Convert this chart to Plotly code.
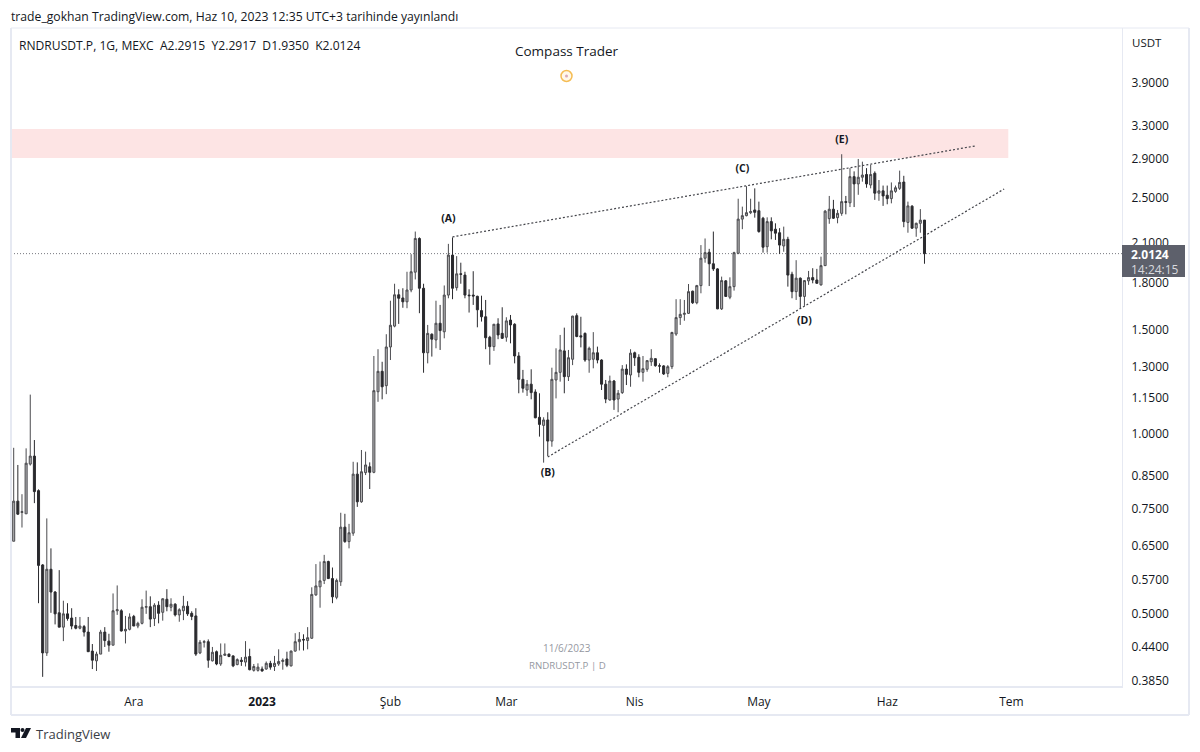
import numpy as np
import pandas as pd
import plotly.graph_objects as go

# daily candles, RNDRUSDT.P, first bar 2 Nov 2022
opens = [
    .661, .772, .739, .735, .891, .919, .804, .603, .429, .593,
    .543, .501, .474, .499, .491, .477, .472, .475, .465, .432,
    .416, .427, .465, .449, .442, .505, .505, .467, .470, .494,
    .476, .481, .512, .513, .490, .516, .502, .528, .512, .518,
    .497, .505, .514, .500, .495, .429, .447, .448, .416, .431,
    .411, .425, .427, .424, .410, .417, .414, .423, .401, .401,
    .403, .403, .412, .407, .411, .415, .419, .408, .432, .448,
    .452, .450, .454, .537, .554, .568, .611, .572, .532, .565,
    .698, .660, .682, .857, .770, .862, .882, .863, 1.179, 1.276,
    1.207, 1.402, 1.520, 1.716, 1.695, 1.670, 1.748, 1.873, 2.134, 1.760,
    1.371, 1.473, 1.441, 1.537, 1.487, 1.714, 2.001, 1.764, 1.861, 1.852,
    1.714, 1.714, 1.706, 1.614, 1.576, 1.456, 1.404, 1.533, 1.478, 1.456,
    1.556, 1.531, 1.354, 1.237, 1.187, 1.214, 1.178, 1.068, 1.035, 1.057,
    .974, 1.234, 1.271, 1.381, 1.250, 1.337, 1.583, 1.464, 1.478, 1.333,
    1.337, 1.371, 1.333, 1.214, 1.142, 1.229, 1.146, 1.175, 1.287, 1.258,
    1.371, 1.347, 1.271, 1.286, 1.324, 1.340, 1.304, 1.303, 1.266, 1.299,
    1.474, 1.571, 1.591, 1.597, 1.740, 1.664, 1.778, 1.977, 2.023, 1.935,
    1.897, 1.625, 1.811, 1.700, 1.771, 2.015, 2.300, 2.331, 2.358, 2.383,
    2.376, 2.308, 2.067, 2.278, 2.212, 2.182, 2.073, 2.127, 1.858, 1.737,
    1.830, 1.705, 1.811, 1.834, 1.817, 1.783, 1.921, 2.304, 2.390, 2.313,
    2.352, 2.461, 2.450, 2.711, 2.636, 2.705, 2.734, 2.625, 2.747, 2.543,
    2.566, 2.523, 2.490, 2.561, 2.591, 2.655, 2.271, 2.418, 2.221, 2.263,
    2.2915,
]
highs = [
    .949, .888, .793, .947, 1.166, .978, .808, .605, .722, .643,
    .545, .591, .525, .520, .510, .493, .493, .478, .493, .444,
    .431, .469, .474, .462, .540, .557, .508, .495, .500, .497,
    .484, .528, .546, .534, .520, .524, .530, .549, .530, .520,
    .510, .535, .524, .504, .510, .451, .451, .452, .439, .433,
    .445, .445, .428, .425, .420, .422, .449, .436, .411, .412,
    .407, .415, .416, .424, .435, .420, .431, .433, .463, .465,
    .461, .474, .553, .605, .611, .627, .613, .597, .572, .738,
    .735, .707, .899, .897, .941, .935, .897, 1.354, 1.390, 1.324,
    1.473, 1.677, 1.791, 1.753, 1.760, 1.876, 2.008, 2.192, 2.143, 1.791,
    1.527, 1.478, 1.677, 1.650, 1.779, 2.090, 2.143, 1.993, 1.943, 1.876,
    1.753, 1.880, 1.710, 1.710, 1.682, 1.464, 1.533, 1.567, 1.635, 1.573,
    1.587, 1.537, 1.374, 1.283, 1.234, 1.286, 1.190, 1.172, 1.068, 1.089,
    1.294, 1.395, 1.469, 1.511, 1.386, 1.582, 1.597, 1.576, 1.483, 1.404,
    1.485, 1.404, 1.337, 1.234, 1.255, 1.234, 1.187, 1.307, 1.311, 1.390,
    1.377, 1.363, 1.354, 1.333, 1.390, 1.342, 1.316, 1.307, 1.307, 1.487,
    1.687, 1.687, 1.682, 1.789, 1.744, 1.783, 2.080, 2.134, 2.050, 2.192,
    1.902, 1.841, 1.817, 1.836, 2.027, 2.489, 2.414, 2.613, 2.489, 2.591,
    2.461, 2.320, 2.316, 2.316, 2.263, 2.221, 2.234, 2.148, 1.876, 1.962,
    1.835, 1.817, 1.882, 1.902, 1.897, 1.989, 2.383, 2.516, 2.478, 2.383,
    2.957, 2.516, 2.802, 2.767, 2.903, 2.873, 2.802, 2.838, 2.767, 2.676,
    2.619, 2.619, 2.651, 2.619, 2.775, 2.720, 2.461, 2.428, 2.269, 2.391,
    2.2917,
]
lows = [
    .661, .732, .697, .735, .886, .766, .520, .391, .424, .501,
    .479, .474, .449, .486, .470, .470, .470, .457, .431, .403,
    .400, .427, .439, .431, .442, .497, .466, .445, .468, .476,
    .472, .479, .499, .474, .476, .481, .486, .504, .504, .494,
    .484, .487, .495, .487, .424, .427, .438, .405, .415, .409,
    .408, .424, .422, .406, .409, .408, .407, .401, .399, .399,
    .399, .402, .402, .400, .408, .402, .406, .407, .431, .433,
    .433, .435, .453, .535, .511, .560, .571, .520, .528, .556,
    .657, .643, .675, .755, .767, .854, .809, .860, 1.134, 1.145,
    1.168, 1.333, 1.513, 1.533, 1.632, 1.629, 1.733, 1.821, 1.598, 1.269,
    1.316, 1.351, 1.395, 1.386, 1.450, 1.693, 1.687, 1.744, 1.791, 1.693,
    1.602, 1.650, 1.513, 1.547, 1.390, 1.309, 1.381, 1.445, 1.446, 1.431,
    1.422, 1.316, 1.172, 1.175, 1.160, 1.145, 1.064, .991, .896, .919,
    .953, 1.149, 1.226, 1.172, 1.229, 1.307, 1.456, 1.400, 1.324, 1.269,
    1.291, 1.316, 1.187, 1.128, 1.139, 1.099, 1.089, 1.169, 1.210, 1.202,
    1.303, 1.247, 1.226, 1.274, 1.303, 1.299, 1.269, 1.258, 1.247, 1.287,
    1.464, 1.527, 1.552, 1.593, 1.656, 1.654, 1.726, 1.943, 1.775, 1.882,
    1.623, 1.618, 1.702, 1.687, 1.744, 2.008, 2.212, 2.325, 2.345, 2.313,
    2.182, 2.020, 2.020, 2.127, 2.122, 2.010, 2.027, 1.771, 1.693, 1.682,
    1.625, 1.644, 1.783, 1.794, 1.791, 1.778, 1.918, 2.259, 2.301, 2.263,
    2.330, 2.343, 2.410, 2.410, 2.527, 2.659, 2.597, 2.591, 2.478, 2.469,
    2.421, 2.436, 2.445, 2.547, 2.575, 2.229, 2.182, 2.215, 2.148, 2.182,
    1.9350,
]
closes = [
    .772, .734, .741, .894, .919, .801, .602, .429, .593, .543,
    .499, .474, .499, .490, .476, .472, .476, .465, .431, .417,
    .427, .465, .450, .442, .505, .507, .467, .470, .493, .476,
    .481, .512, .513, .489, .516, .500, .529, .513, .518, .497,
    .507, .514, .499, .494, .427, .447, .448, .417, .430, .411,
    .425, .427, .423, .408, .418, .415, .422, .402, .407, .406,
    .400, .412, .406, .412, .415, .417, .409, .432, .448, .452,
    .451, .455, .538, .556, .567, .611, .572, .533, .568, .698,
    .660, .683, .857, .770, .865, .888, .863, 1.184, 1.276, 1.202,
    1.402, 1.525, 1.716, 1.693, 1.670, 1.748, 1.876, 2.134, 1.760, 1.371,
    1.478, 1.445, 1.537, 1.494, 1.714, 2.001, 1.760, 1.861, 1.858, 1.714,
    1.710, 1.708, 1.619, 1.576, 1.453, 1.404, 1.531, 1.469, 1.450, 1.551,
    1.527, 1.354, 1.237, 1.195, 1.214, 1.175, 1.066, 1.039, 1.057, .974,
    1.237, 1.271, 1.386, 1.250, 1.345, 1.580, 1.460, 1.458, 1.333, 1.395,
    1.371, 1.333, 1.214, 1.146, 1.229, 1.142, 1.172, 1.287, 1.261, 1.369,
    1.345, 1.271, 1.289, 1.330, 1.342, 1.304, 1.302, 1.263, 1.299, 1.483,
    1.571, 1.591, 1.597, 1.737, 1.664, 1.778, 1.977, 2.020, 1.935, 1.897,
    1.625, 1.813, 1.705, 1.771, 2.020, 2.300, 2.331, 2.358, 2.368, 2.361,
    2.192, 2.063, 2.278, 2.198, 2.178, 2.080, 2.127, 1.852, 1.737, 1.830,
    1.705, 1.813, 1.834, 1.817, 1.794, 1.921, 2.372, 2.390, 2.308, 2.352,
    2.461, 2.455, 2.711, 2.636, 2.705, 2.728, 2.636, 2.734, 2.543, 2.566,
    2.516, 2.490, 2.566, 2.597, 2.651, 2.278, 2.421, 2.221, 2.263, 2.291,
    2.0124,
]

# trendlines and zone
upper_dates = ["2023-02-16", "2023-06-22 06:00"]
upper_prices = [2.147, 3.053]
lower_dates = ["2023-03-11", "2023-06-29 06:00"]
lower_prices = [0.916, 2.585]
zone_dates = ["2022-11-01", "2023-06-30 06:00"]
zone_prices = [2.914, 3.261]
last_price = 2.0124

wave_labels = ["<b>(A)</b>", "<b>(B)</b>", "<b>(C)</b>", "<b>(D)</b>", "<b>(E)</b>"]
wave_dates = ["2023-02-15", "2023-03-11", "2023-04-27", "2023-05-12", "2023-05-21"]
wave_prices = [2.30, 0.858, 2.785, 1.547, 3.115]

y_ticks = [3.9, 3.3, 2.9, 2.5, 2.1, 1.8, 1.5, 1.3, 1.15, 1.0, 0.85, 0.75, 0.65, 0.57, 0.5, 0.44, 0.385]
x_ticks = ["2022-12-01", "2023-01-01", "2023-02-01", "2023-03-01", "2023-04-01", "2023-05-01", "2023-06-01", "2023-07-01"]
x_labels = ["Ara", "<b>2023</b>", "Şub", "Mar", "Nis", "May", "Haz", "Tem"]

FONT = "Open Sans"
INK = "#131722"
BORDER = "#e6e9f2"
L, R, T, B = 11, 1122, 28, 686


def px(x):
    return (x - L) / (R - L)


def py(y):
    return (B - y) / (B - T)


dates = pd.date_range("2022-11-02", periods=len(opens), freq="D")

fig = go.Figure()
fig.add_trace(go.Candlestick(
    x=dates, open=opens, high=highs, low=lows, close=closes,
    increasing=dict(line=dict(color="#4a4a4e", width=1), fillcolor="#b4b4b6"),
    decreasing=dict(line=dict(color="#2a2a2e", width=1), fillcolor="#2a2a2e"),
    whiskerwidth=0,
    showlegend=False,
))
for xs, ys in [(upper_dates, upper_prices), (lower_dates, lower_prices)]:
    fig.add_trace(go.Scatter(
        x=xs, y=ys, mode="lines", showlegend=False,
        line=dict(color="#44454b", width=1.2, dash="2px,2px"),
    ))
fig.add_trace(go.Scatter(
    x=wave_dates, y=wave_prices, mode="text", text=wave_labels, showlegend=False,
    textfont=dict(family=FONT, size=10.5, color=INK),
))

shapes = [
    dict(type="rect", xref="x", yref="y", x0=zone_dates[0], x1=zone_dates[1],
         y0=zone_prices[0], y1=zone_prices[1],
         fillcolor="#fde4e4", line_width=0, layer="below"),
    dict(type="line", xref="paper", yref="y", x0=0, x1=1, y0=last_price, y1=last_price,
         line=dict(color="#77787f", width=1, dash="1px,2px"), layer="below"),
    # panel frame
    dict(type="line", xref="paper", yref="paper", x0=px(1189), x1=px(1189), y0=py(28), y1=py(715),
         line=dict(color=BORDER, width=2)),
    dict(type="line", xref="paper", yref="paper", x0=px(11), x1=px(1189), y0=py(715), y1=py(715),
         line=dict(color=BORDER, width=2)),
    dict(type="line", xref="paper", yref="paper", x0=px(11), x1=px(11), y0=py(28), y1=py(715),
         line=dict(color=BORDER, width=2)),
    dict(type="line", xref="paper", yref="paper", x0=px(11), x1=px(1189), y0=py(28), y1=py(28),
         line=dict(color=BORDER, width=1)),
    # last price tag
    dict(type="rect", xref="paper", yref="paper", x0=px(1122), x1=px(1185), y0=py(245), y1=py(277),
         fillcolor="#5d606b", line_width=0, layer="above"),
    # compass icon
    dict(type="circle", xref="paper", yref="paper", x0=px(561), x1=px(572), y0=py(70.5), y1=py(81.5),
         fillcolor="#fff8ea", line=dict(color="#f5bd55", width=1.5)),
    dict(type="circle", xref="paper", yref="paper", x0=px(565), x1=px(568), y0=py(74.5), y1=py(77.5),
         fillcolor="#d9a9b8", line_width=0),
    # TradingView logo
    dict(type="path", xref="paper", yref="paper", fillcolor="#131722", line_width=0,
         path=f"M {px(11)} {py(728)} L {px(20)} {py(728)} L {px(20)} {py(738)} L {px(15.5)} {py(738)} "
              f"L {px(15.5)} {py(732.5)} L {px(11)} {py(732.5)} Z"),
    dict(type="circle", xref="paper", yref="paper", fillcolor="#131722", line_width=0,
         x0=px(20.5), x1=px(24.5), y0=py(728), y1=py(732)),
    dict(type="path", xref="paper", yref="paper", fillcolor="#131722", line_width=0,
         path=f"M {px(26)} {py(728)} L {px(31)} {py(728)} L {px(26)} {py(738)} L {px(21)} {py(738)} Z"),
]


def note(x, y, text, size=12, color=INK, anchor="left"):
    return dict(xref="paper", yref="paper", x=px(x), y=py(y), text=text, showarrow=False,
                xanchor=anchor, yanchor="middle", font=dict(family=FONT, size=size, color=color))


annotations = [
    note(9, 17, "trade_gokhan TradingView.com, Haz 10, 2023 12:35 UTC+3 tarihinde yayınlandı", 12.2),
    note(17, 45, "RNDRUSDT.P, 1G, MEXC&nbsp;&nbsp;A2.2915&nbsp;&nbsp;Y2.2917&nbsp;&nbsp;D1.9350&nbsp;&nbsp;K2.0124", 12.1),
    note(567, 50.5, "Compass Trader", 13.5, anchor="center"),
    note(567, 648, "11/6/2023", 10, "#9598a1", "center"),
    note(567, 665, "RNDRUSDT.P | D", 9.7, "#9598a1", "center"),
    note(1130, 43, "USDT", 11.5),
    note(1129, 254, "<b>2.0124</b>", 12, "#ffffff"),
    note(1129, 269, "14:24:15", 12, "#d8d9de"),
    note(34, 733.5, "TradingView", 13, "#3a3d46"),
]

fig.update_layout(
    width=1200, height=752,
    margin=dict(l=L, r=1200 - R, t=T, b=752 - B, pad=0),
    paper_bgcolor="white", plot_bgcolor="white",
    boxgap=0.3,
    shapes=shapes, annotations=annotations,
    font=dict(family=FONT, size=12, color=INK),
    xaxis=dict(
        type="date", range=["2022-11-01 08:24", "2023-07-27 17:00"],
        rangeslider=dict(visible=False),
        tickmode="array", tickvals=x_ticks, ticktext=x_labels,
        showgrid=False, zeroline=False, ticks="outside", ticklen=4, tickcolor="white",
        showline=True, linecolor=BORDER, linewidth=2,
    ),
    yaxis=dict(
        type="log", side="right", range=[np.log10(0.3774), np.log10(4.82)],
        tickmode="array", tickvals=y_ticks, ticktext=[f"{v:.4f}" for v in y_ticks],
        showgrid=False, zeroline=False, ticks="outside", ticklen=6, tickcolor="white",
        showline=True, linecolor=BORDER, linewidth=1,
    ),
)

fig.write_html(
    "out.html",
    config=dict(displayModeBar=False),
    post_script="document.body.style.margin='0';",
)
